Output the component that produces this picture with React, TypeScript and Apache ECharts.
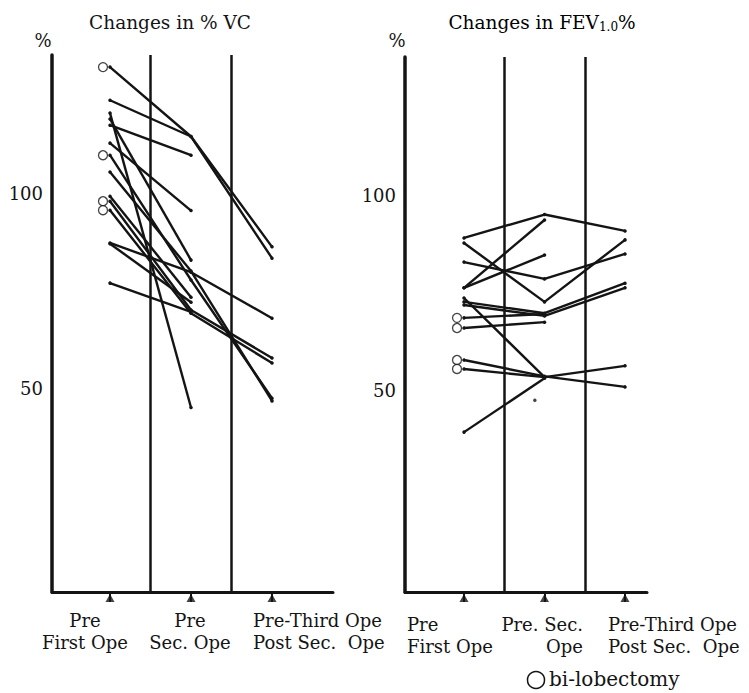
import React, { useEffect, useRef } from "react";
import * as echarts from "echarts";

// ---------- data ----------
const stages = [1, 2, 3];
const yTickValues = [50, 100];

// Changes in % VC (left panel); null = no third operation
const vcPreFirst = [132.3, 123.8, 117.4, 112.8, 120.5, 119.0, 109.7, 105.4, 97.9, 95.6, 99.2, 87.2, 87.0, 76.9];
const vcPreSec = [114.5, 114.5, 109.7, 95.5, 45.0, 82.8, 77.7, 80.0, 70.0, 69.2, 73.3, 79.7, 72.0, 69.5];
const vcPreThird = [86.2, 83.3, null, null, null, null, 47.4, 46.7, 57.7, 56.4, null, 67.9, null, null];
const vcBiLobectomy = [true, false, false, false, false, false, true, false, true, true, false, false, false, false];

// Changes in FEV1.0% (right panel)
const fevPreFirst = [89.0, 87.7, 82.8, 76.2, 76.2, 73.6, 72.6, 71.8, 68.5, 65.9, 57.7, 55.4, 39.2];
const fevPreSec = [95.0, 72.6, 78.5, 84.6, 93.6, 53.3, 69.7, 69.0, 69.5, 67.4, 53.5, 53.3, 53.0];
const fevPreThird = [90.8, 88.5, 84.9, null, null, 56.2, 77.4, 76.2, null, null, 50.8, null, null];
const fevBiLobectomy = [false, false, false, false, false, false, false, false, true, true, true, true, false];
const fevStrayDots = [[1.88, 47.4]];

const titleLeft = "Changes in % VC";
const titleRightMain = "Changes in FEV";
const titleRightSub = "1.0";
const leftXLabels = ["Pre\nFirst Ope", "Pre\nSec. Ope", "Pre-Third Ope\nPost Sec.  Ope"];
const rightXLabels = ["Pre\nFirst Ope", "Pre. Sec.\nOpe", "Pre-Third Ope\nPost Sec.  Ope"];
const legendLabel = "bi-lobectomy";

// ---------- styling ----------
const INK = "#141414";
const FONT = "DejaVu Serif";

const panels = [
  { first: vcPreFirst, sec: vcPreSec, third: vcPreThird, bilob: vcBiLobectomy, xMin: 0.284, xMax: 3.753, yMin: -2.31, yMax: 135.4, stray: [] as number[][] },
  { first: fevPreFirst, sec: fevPreSec, third: fevPreThird, bilob: fevBiLobectomy, xMin: 0.267, xMax: 3.273, yMin: -1.8, yMax: 135.4, stray: fevStrayDots },
];

function buildSeries() {
  const series: any[] = [];
  panels.forEach((p, g) => {
    p.first.forEach((v, i) => {
      const pts: number[][] = [[stages[0], v], [stages[1], p.sec[i]]];
      const t = p.third[i];
      if (t !== null && t !== undefined) pts.push([stages[2], t]);
      series.push({
        type: "line",
        xAxisIndex: g,
        yAxisIndex: g,
        data: pts,
        symbol: "circle",
        symbolSize: 3.5,
        showSymbol: true,
        itemStyle: { color: INK },
        lineStyle: { color: INK, width: 2.4 },
        silent: true,
        z: 2,
      });
    });
    series.push({
      type: "scatter",
      xAxisIndex: g,
      yAxisIndex: g,
      data: p.first.map((v, i) => (p.bilob[i] ? [stages[0], v] : null)).filter(Boolean),
      symbol: "circle",
      symbolSize: 9,
      symbolOffset: [-7, 0],
      itemStyle: { color: "#fff", borderColor: INK, borderWidth: 1.3 },
      silent: true,
      z: 4,
    });
    if (p.stray.length) {
      series.push({
        type: "scatter",
        xAxisIndex: g,
        yAxisIndex: g,
        data: p.stray,
        symbol: "circle",
        symbolSize: 3.5,
        itemStyle: { color: INK },
        silent: true,
      });
    }
    series.push({
      type: "scatter",
      xAxisIndex: g,
      yAxisIndex: g,
      data: stages.map((x) => [x, p.yMin]),
      symbol: "triangle",
      symbolSize: [9, 8],
      symbolOffset: [0, 6],
      itemStyle: { color: INK },
      clip: false,
      silent: true,
      markLine: {
        silent: true,
        symbol: "none",
        label: { show: false },
        lineStyle: { color: INK, width: 2.5, type: "solid" },
        data: [{ xAxis: 1.5 }, { xAxis: 2.5 }],
      },
    });
  });
  return series;
}

export default function App() {
  const ref = useRef<HTMLDivElement>(null);
  useEffect(() => {
    if (!ref.current) return;
    const chart = echarts.init(ref.current, undefined, { renderer: "svg" });
    const textStyle = (extra: any) => ({ fill: INK, fontFamily: FONT, fontSize: 18, ...extra });
    chart.setOption({
      animation: false,
      backgroundColor: "#fff",
      textStyle: { fontFamily: FONT },
      grid: [
        { left: 52, right: 416, top: 55, bottom: 101 },
        { left: 405, right: 102, top: 57, bottom: 101 },
      ],
      xAxis: panels.map((p, g) => ({
        type: "value",
        gridIndex: g,
        min: p.xMin,
        max: p.xMax,
        splitLine: { show: false },
        axisLine: { show: true, onZero: false, lineStyle: { color: INK, width: 3 } },
        axisTick: { show: true, customValues: stages, length: 10, lineStyle: { color: INK, width: 2 } },
        axisLabel: { show: false },
      })),
      yAxis: panels.map((p, g) => ({
        type: "value",
        gridIndex: g,
        min: p.yMin,
        max: p.yMax,
        splitLine: { show: false },
        axisLine: { show: true, onZero: false, lineStyle: { color: INK, width: 3.5 } },
        axisTick: { show: false },
        axisLabel: { customValues: yTickValues, color: INK, fontFamily: FONT, fontSize: 18, margin: 9 },
      })),
      series: buildSeries(),
      graphic: [
        { type: "text", x: 170, y: 22, style: textStyle({ text: titleLeft, fontSize: 18.5, align: "center", verticalAlign: "middle" }) },
        {
          type: "text",
          x: 542,
          y: 22,
          style: {
            text: `{a|${titleRightMain}}{s|${titleRightSub}}{a|%}`,
            align: "center",
            verticalAlign: "middle",
            rich: {
              a: { fontFamily: FONT, fontSize: 18.5, color: INK, lineHeight: 22 },
              s: { fontFamily: FONT, fontSize: 12, color: INK, lineHeight: 22, verticalAlign: "bottom", padding: [4, 0, 0, 0] },
            },
          },
        },
        { type: "text", x: 43, y: 40, style: textStyle({ text: "%", align: "center", verticalAlign: "middle" }) },
        { type: "text", x: 397, y: 40, style: textStyle({ text: "%", align: "center", verticalAlign: "middle" }) },
        { type: "text", x: 85, y: 609, style: textStyle({ text: leftXLabels[0], align: "center", verticalAlign: "top", lineHeight: 22 }) },
        { type: "text", x: 190, y: 609, style: textStyle({ text: leftXLabels[1], align: "center", verticalAlign: "top", lineHeight: 22 }) },
        { type: "text", x: 253, y: 609, style: textStyle({ text: leftXLabels[2], align: "left", verticalAlign: "top", lineHeight: 22 }) },
        { type: "text", x: 407, y: 613, style: textStyle({ text: rightXLabels[0], align: "left", verticalAlign: "top", lineHeight: 22 }) },
        { type: "text", x: 583, y: 613, style: textStyle({ text: rightXLabels[1], align: "right", verticalAlign: "top", lineHeight: 22 }) },
        { type: "text", x: 608, y: 613, style: textStyle({ text: rightXLabels[2], align: "left", verticalAlign: "top", lineHeight: 22 }) },
        { type: "circle", shape: { cx: 536, cy: 680, r: 8.5 }, style: { fill: "none", stroke: INK, lineWidth: 1.5 } },
        { type: "text", x: 549, y: 679, style: textStyle({ text: legendLabel, fontSize: 20, align: "left", verticalAlign: "middle" }) },
      ],
    });
    return () => chart.dispose();
  }, []);
  return <div ref={ref} style={{ position: "fixed", left: 0, top: 0, width: 749, height: 693 }} />;
}
